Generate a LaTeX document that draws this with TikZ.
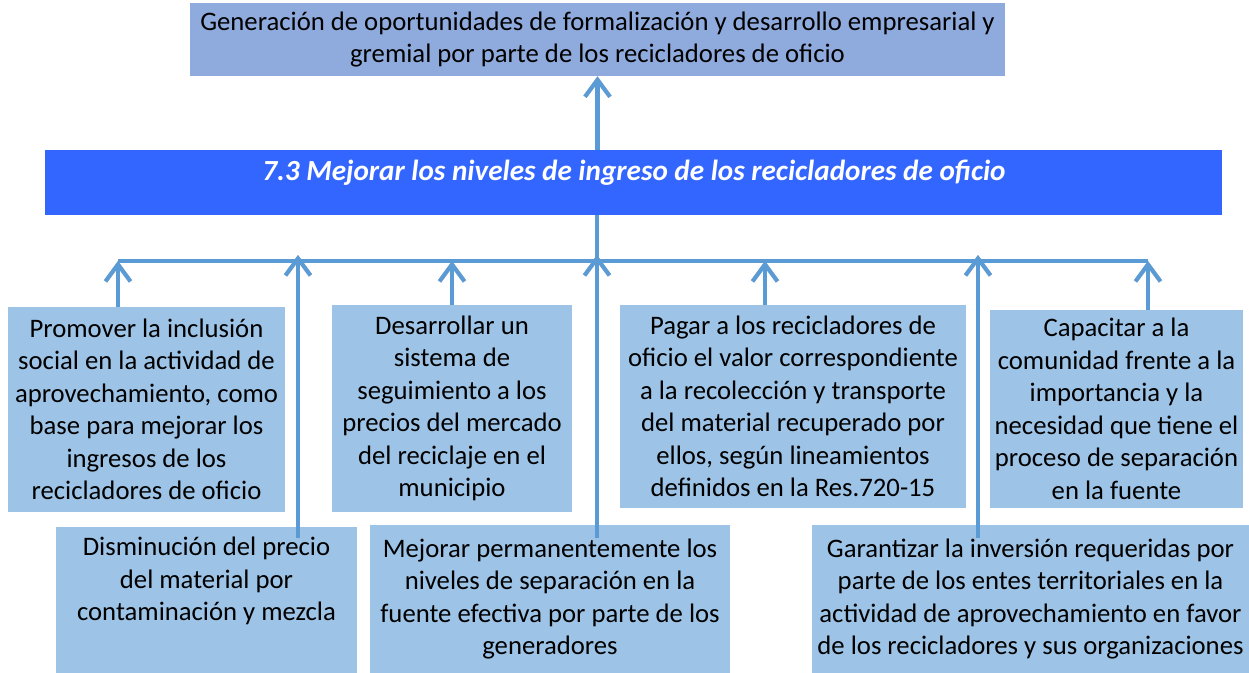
\documentclass[tikz,border=0pt]{standalone}
\usepackage{fontspec}
\setmainfont{Carlito}
\usetikzlibrary{arrows.meta}
\definecolor{causa}{HTML}{9DC3E6}
\definecolor{fin}{HTML}{8FAADC}
\definecolor{meta}{HTML}{3366FF}
\definecolor{flecha}{HTML}{5B9BD5}
\definecolor{sombra}{HTML}{C4C4C4}
\begin{document}
\begin{tikzpicture}[
    x=0.02cm, y=-0.02cm,
    every node/.style={inner sep=0pt, align=center, font=\fontsize{15.2}{18.5}\selectfont},
    causebox/.style={rectangle, fill=causa},
    conn/.style={flecha, line width=2.3pt, -{Straight Barb[length=0.34cm,width=0.5cm]}},
    shade/.style={sombra, line width=2.3pt, -{Straight Barb[length=0.34cm,width=0.5cm]}, yshift=-0.08cm},
    plain/.style={flecha, line width=2.3pt}
  ]
    \useasboundingbox (0,0) rectangle (1249,673);
    % fin y objetivo
    \node[fill=fin, minimum width=16.30cm, minimum height=1.46cm] (fin) at (597.5,39.5)
      {Generación de oportunidades de formalización y desarrollo empresarial y\\
       gremial por parte de los recicladores de oficio};
    \node[fill=meta, minimum width=23.54cm, minimum height=1.30cm] (meta) at (633.5,182.5) {};
    \node[text=white, font=\fontsize{16.6}{20}\selectfont\bfseries\itshape] (metatxt) at (634,173)
      {7.3 Mejorar los niveles de ingreso de los recicladores de oficio};
    % primera fila
    \node[causebox, minimum width=5.54cm, minimum height=4.10cm] (promover) at (146.5,409.5)
      {Promover la inclusión\\ social en la actividad de\\ aprovechamiento, como\\
       base para mejorar los\\ ingresos de los\\ recicladores de oficio};
    \node[causebox, minimum width=4.80cm, minimum height=4.14cm] (desarrollar) at (452,408.5)
      {Desarrollar un\\ sistema de\\ seguimiento a los\\ precios del mercado\\
       del reciclaje en el\\ municipio};
    \node[causebox, minimum width=6.92cm, minimum height=4.06cm] (pagar) at (793,406.5)
      {Pagar a los recicladores de\\ oficio el valor correspondiente\\
       a la recolección y transporte\\ del material recuperado por\\
       ellos, según lineamientos\\ definidos en la Res.720-15};
    \node[causebox, minimum width=5.06cm, minimum height=3.96cm] (capacitar) at (1116.5,409)
      {Capacitar a la\\ comunidad frente a la\\ importancia y la\\ necesidad que tiene el\\
       proceso de separación\\ en la fuente};
    % segunda fila
    \node[causebox, minimum width=6.02cm, minimum height=2.92cm] (disminucion) at (206.5,600)
      {Disminución del precio\\ del material por\\ contaminación y mezcla\\ \strut};
    \node[causebox, minimum width=7.20cm, minimum height=2.96cm] (mejorar) at (550,599)
      {Mejorar permanentemente los\\ niveles de separación en la\\
       fuente efectiva por parte de los\\ generadores};
    \node[causebox, minimum width=8.74cm, minimum height=2.96cm] (garantizar) at (1030.5,599)
      {Garantizar la inversión requeridas por\\ parte de los entes territoriales en la\\
       actividad de aprovechamiento en favor\\ de los recicladores y sus organizaciones};
    % puntos de la barra
    \coordinate (busL) at (118,261);
    \coordinate (busR) at (1148,261);
    \coordinate (busM) at (597,261);
    \coordinate (busP) at (765,261);
    \coordinate (inD) at (298,538);
    \coordinate (inM) at (597,538);
    \coordinate (inG) at (978,538);
    % sombras
    \draw[sombra, line width=2.3pt, yshift=-0.08cm] (busL) -- (busR);
    \draw[shade] (meta.north -| fin.south) -- (fin.south);
    \draw[shade] (promover.north -| busL) -- (busL);
    \draw[shade] (inD) -- ([yshift=0.12cm]inD |- busL);
    \draw[shade] (desarrollar.north) -- (desarrollar.north |- busL);
    \draw[shade] (inM) -- ([yshift=0.12cm]busM);
    \draw[shade] (pagar.north -| busP) -- (busP);
    \draw[shade] (inG) -- ([yshift=0.12cm]inG |- busL);
    \draw[shade] (capacitar.north -| busR) -- (busR);
    % conectores
    \draw[plain] (busL) -- (busR);
    \draw[plain] (meta.south -| busM) -- (busM);
    \draw[conn] (meta.north -| fin.south) -- (fin.south);
    \draw[conn] (promover.north -| busL) -- (busL);
    \draw[conn] (inD) -- ([yshift=0.12cm]inD |- busL);
    \draw[conn] (desarrollar.north) -- (desarrollar.north |- busL);
    \draw[conn] (inM) -- ([yshift=0.12cm]busM);
    \draw[conn] (pagar.north -| busP) -- (busP);
    \draw[conn] (inG) -- ([yshift=0.12cm]inG |- busL);
    \draw[conn] (capacitar.north -| busR) -- (busR);
  \end{tikzpicture}
\end{document}
